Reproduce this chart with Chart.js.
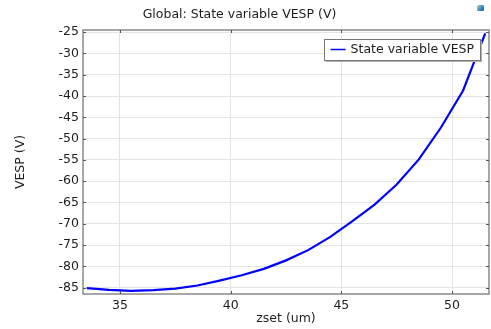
<!DOCTYPE html>
<html><head><meta charset="utf-8">
<script src="https://cdn.jsdelivr.net/npm/chart.js@4.4.0/dist/chart.umd.min.js"></script>
<style>html,body{margin:0;padding:0;background:#fff;overflow:hidden}</style>
</head><body>
<canvas id="c" width="491" height="329" style="display:block;width:491px;height:329px"></canvas>
<script>
const zset = [33.5,34.5,35.5,36.5,37.5,38.5,39.5,40.5,41.5,42.5,43.5,44.5,45.5,46.5,47.5,48.5,49.5,50.5,51.5];
const vesp = [-85.1,-85.55,-85.75,-85.6,-85.25,-84.5,-83.35,-82.1,-80.6,-78.6,-76.2,-73.1,-69.4,-65.5,-60.8,-54.9,-47.4,-38.7,-25.3];
const xTicks = [35,40,45,50];
const yTicks = [-85,-80,-75,-70,-65,-60,-55,-50,-45,-40,-35,-30,-25];
const titleText = 'Global: State variable VESP (V)';
const seriesLabel = 'State variable VESP';
const xLabel = 'zset (um)';
const yLabel = 'VESP (V)';

const FONT = 'DejaVu Sans';
const TXT = '#1e1e1e';

const decor = {
  id: 'decor',
  afterDatasetsDraw(chart) {
    const {ctx, chartArea: a, scales: {x, y}} = chart;
    ctx.save();
    // frame
    ctx.strokeStyle = '#8a8a8a';
    ctx.lineWidth = 1.5;
    ctx.strokeRect(a.left, a.top, a.right - a.left, a.bottom - a.top);
    // inner tick marks on all sides
    ctx.lineWidth = 1;
    ctx.strokeStyle = '#555';
    ctx.beginPath();
    x.ticks.forEach(t => {
      const px = Math.round(x.getPixelForValue(t.value)) + 0.5;
      ctx.moveTo(px, a.bottom); ctx.lineTo(px, a.bottom - 3);
      ctx.moveTo(px, a.top); ctx.lineTo(px, a.top + 3);
    });
    y.ticks.forEach(t => {
      const py = Math.round(y.getPixelForValue(t.value)) + 0.5;
      ctx.moveTo(a.left, py); ctx.lineTo(a.left + 3, py);
      ctx.moveTo(a.right, py); ctx.lineTo(a.right - 3, py);
    });
    ctx.stroke();

    // legend
    const ds = chart.data.datasets[0];
    ctx.font = '12.5px "' + FONT + '"';
    const tw = ctx.measureText(ds.label).width;
    const bw = 7 + 15 + 5 + tw + 6, bh = 21;
    const bx = a.right - 9 - bw, by = a.top + 9;
    ctx.fillStyle = '#b0b0b0';
    ctx.fillRect(bx + 2, by + 2, bw, bh);
    ctx.fillStyle = '#fff';
    ctx.fillRect(bx, by, bw, bh);
    ctx.strokeStyle = '#777';
    ctx.lineWidth = 1;
    ctx.strokeRect(Math.round(bx) + 0.5, by + 0.5, Math.round(bw), bh);
    ctx.strokeStyle = ds.borderColor;
    ctx.lineWidth = 1.5;
    ctx.beginPath();
    ctx.moveTo(bx + 7, by + bh / 2); ctx.lineTo(bx + 22, by + bh / 2);
    ctx.stroke();
    ctx.fillStyle = TXT;
    ctx.textBaseline = 'middle';
    ctx.textAlign = 'left';
    ctx.fillText(ds.label, bx + 27, by + bh / 2 + 0.5);

    // title
    ctx.font = '12.5px "' + FONT + '"';
    ctx.textAlign = 'center';
    ctx.fillText(titleText, 239.5, 15);

    // small icon
    const g = ctx.createLinearGradient(477, 5, 484, 11);
    g.addColorStop(0, '#e6d44a');
    g.addColorStop(0.45, '#4a9ad8');
    g.addColorStop(1, '#1f4fa0');
    ctx.fillStyle = g;
    ctx.beginPath();
    ctx.roundRect(477, 5, 7, 6, 1.5);
    ctx.fill();
    ctx.restore();
  }
};

new Chart(document.getElementById('c'), {
  type: 'line',
  data: {
    datasets: [{
      label: seriesLabel,
      data: zset.map((x, i) => ({x, y: vesp[i]})),
      borderColor: '#0000ff',
      borderWidth: 2.2,
      pointRadius: 0,
      tension: 0,
      fill: false
    }]
  },
  options: {
    responsive: false,
    devicePixelRatio: 1,
    animation: false,
    layout: {padding: {left: 0, right: 2, top: 30, bottom: 0}},
    plugins: {legend: {display: false}, title: {display: false}, tooltip: {enabled: false}},
    scales: {
      x: {
        type: 'linear',
        min: 33.33, max: 51.67,
        afterBuildTicks: s => { s.ticks = xTicks.map(v => ({value: v})); },
        afterFit: s => { s.height = 35; },
        ticks: {font: {family: FONT, size: 12.5}, color: TXT, padding: 4, maxRotation: 0, autoSkip: false},
        grid: {color: '#e3e3e3', lineWidth: 1, drawTicks: false},
        border: {display: false},
        title: {display: true, text: xLabel, font: {family: FONT, size: 12.5}, color: TXT, padding: {top: 0, bottom: 3}}
      },
      y: {
        type: 'linear',
        min: -86.5, max: -24.5,
        afterBuildTicks: s => { s.ticks = yTicks.map(v => ({value: v})); },
        afterFit: s => { s.width = 83; },
        ticks: {font: {family: FONT, size: 12.5}, color: TXT, padding: 4, autoSkip: false},
        grid: {color: '#e3e3e3', lineWidth: 1, drawTicks: false},
        border: {display: false},
        title: {display: true, text: yLabel, font: {family: FONT, size: 12.5}, color: TXT, padding: {top: 13, bottom: 0}}
      }
    }
  },
  plugins: [decor]
});
</script>
</body></html>
